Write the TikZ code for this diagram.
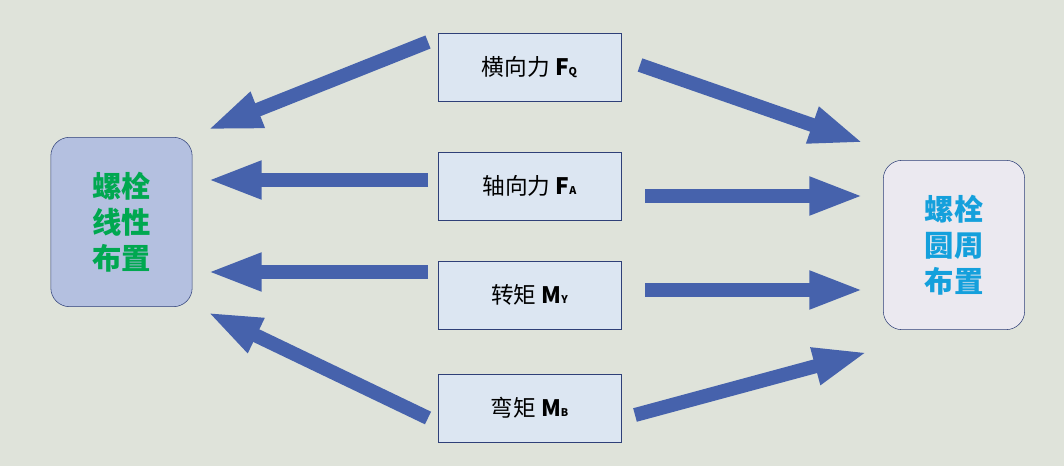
\documentclass[tikz,border=0pt]{standalone}
\usepackage{fontspec}
\setmainfont{Noto Sans CJK SC}
\usetikzlibrary{arrows.meta,positioning}
\definecolor{bgc}{RGB}{223,227,218}
\definecolor{edgec}{RGB}{47,64,120}
\definecolor{arrc}{RGB}{70,98,172}
\definecolor{leftc}{RGB}{180,192,224}
\definecolor{rightc}{RGB}{235,233,240}
\definecolor{midc}{RGB}{220,230,242}
\definecolor{greent}{RGB}{0,168,80}
\definecolor{bluet}{RGB}{20,160,220}
\tikzset{
  load/.style={draw=edgec,fill=midc,minimum width=137pt,minimum height=51pt,inner sep=0pt,font=\fontsize{17}{19}\selectfont},
  layout/.style={draw=edgec,rounded corners=14pt,minimum width=106pt,minimum height=127pt,align=center,font=\bfseries\fontsize{22}{27}\selectfont},
  flow/.style={draw=arrc,line width=10.5pt,-{Triangle[length=41pt,width=26pt]}},
}
\newcommand{\sub}[2]{\textbf{#1}{\footnotesize\textbf{#2}}}
\begin{document}
\begin{tikzpicture}[x=0.75pt,y=0.75pt,yscale=-1,xscale=1]
    \fill[bgc] (0,0) rectangle (1064,466);
    \useasboundingbox (0,0) rectangle (1064,466);

    % left and right
    \node[layout,fill=leftc,text=greent] (lin) at (121.5,222) {螺栓\\线性\\布置};
    \node[layout,fill=rightc,text=bluet] (cir) at (954,245) {螺栓\\圆周\\布置};

    % loads
    \node[load] (fq) at (529.5,67.5) {横向力 \sub{F}{Q}};
    \node[load] (fa) at (529.5,186) {轴向力 \sub{F}{A}};
    \node[load] (my) at (529.5,295) {转矩 \sub{M}{Y}};
    \node[load] (mb) at (529.5,408) {弯矩 \sub{M}{B}};

    % arrow starts
    \coordinate (fq-l) at (428,42);
    \coordinate (fa-l) at (428,180);
    \coordinate (my-l) at (428,272);
    \coordinate (mb-l) at (428,418);
    \coordinate (fq-r) at (640,65);
    \coordinate (fa-r) at (645,196);
    \coordinate (my-r) at (645,290);
    \coordinate (mb-r) at (635,415);
    % arrow ends
    \coordinate (l1) at (207,130);
    \coordinate (l2) at (207,180);
    \coordinate (l3) at (207,272);
    \coordinate (l4) at (207,312);
    \coordinate (r1) at (864,143);
    \coordinate (r2) at (864,196);
    \coordinate (r3) at (864,290);
    \coordinate (r4) at (868,352);

    \draw[flow] (fq-l) -- (l1);
    \draw[flow] (fa-l) -- (l2);
    \draw[flow] (my-l) -- (l3);
    \draw[flow] (mb-l) -- (l4);
    \draw[flow] (fq-r) -- (r1);
    \draw[flow] (fa-r) -- (r2);
    \draw[flow] (my-r) -- (r3);
    \draw[flow] (mb-r) -- (r4);
\end{tikzpicture}
\end{document}
